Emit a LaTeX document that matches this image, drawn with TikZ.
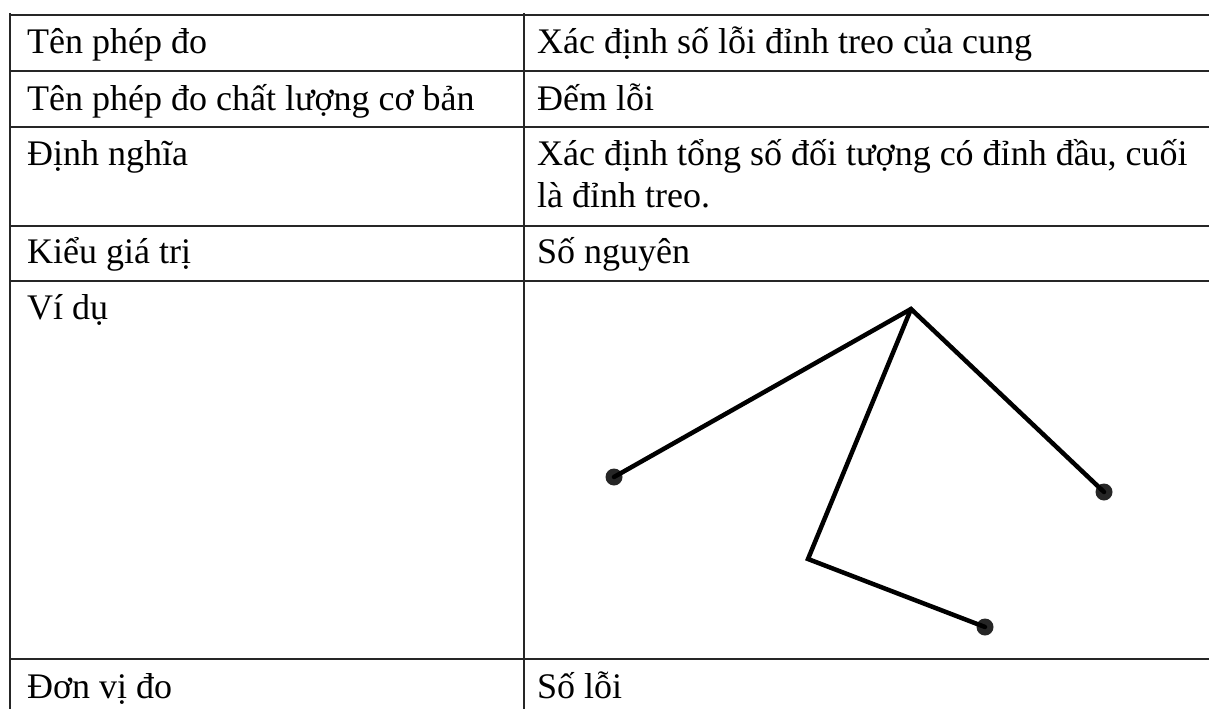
\documentclass[tikz,border=0pt]{standalone}
\usepackage{fontspec}
\setmainfont{Liberation Serif}
\begin{document}
\begin{tikzpicture}[x=1pt,y=-1pt,
  rule/.style={line width=2pt,draw=black!85},
  celltext/.style={anchor=base west,inner sep=0pt,font=\fontsize{36}{42}\selectfont},
  edge/.style={line width=4.5pt,line join=miter,line cap=round},
  vertex/.style={circle,fill=black!85,inner sep=0pt,minimum size=17pt}]
\useasboundingbox (0,0) rectangle (1209,709);
% table rules
\foreach \yy in {15,71,127,226,281,659}{\draw[rule] (10,\yy) -- (1209,\yy);}
\draw[rule] (10,13) -- (10,709);
\draw[rule] (524,13) -- (524,709);
% left column
\node[celltext] (l1) at (27,54) {Tên phép đo};
\node[celltext] (l2) at (27,110) {Tên phép đo chất lượng cơ bản};
\node[celltext] (l3) at (27,165) {Định nghĩa};
\node[celltext] (l4) at (27,263) {Kiểu giá trị};
\node[celltext] (l5) at (27,319) {Ví dụ};
\node[celltext] (l6) at (27,698) {Đơn vị đo};
% right column
\node[celltext] (r1) at (537,54) {Xác định số lỗi đỉnh treo của cung};
\node[celltext] (r2) at (537,110) {Đếm lỗi};
\node[celltext] (r3a) at (537,165) {Xác định tổng số đối tượng có đỉnh đầu, cuối};
\node[celltext] (r3b) at (537,207) {là đỉnh treo.};
\node[celltext] (r4) at (537,263) {Số nguyên};
\node[celltext] (r6) at (537,698) {Số lỗi};
% example graph
\coordinate (apex) at (911,309);
\coordinate (corner) at (808,559);
\node[vertex] (va) at (614,477) {};
\node[vertex] (vb) at (1104,492) {};
\node[vertex] (vc) at (985,627) {};
\draw[edge] (va.center) -- (apex) -- (vb.center);
\draw[edge] (apex) -- (corner) -- (vc.center);
\end{tikzpicture}
\end{document}
